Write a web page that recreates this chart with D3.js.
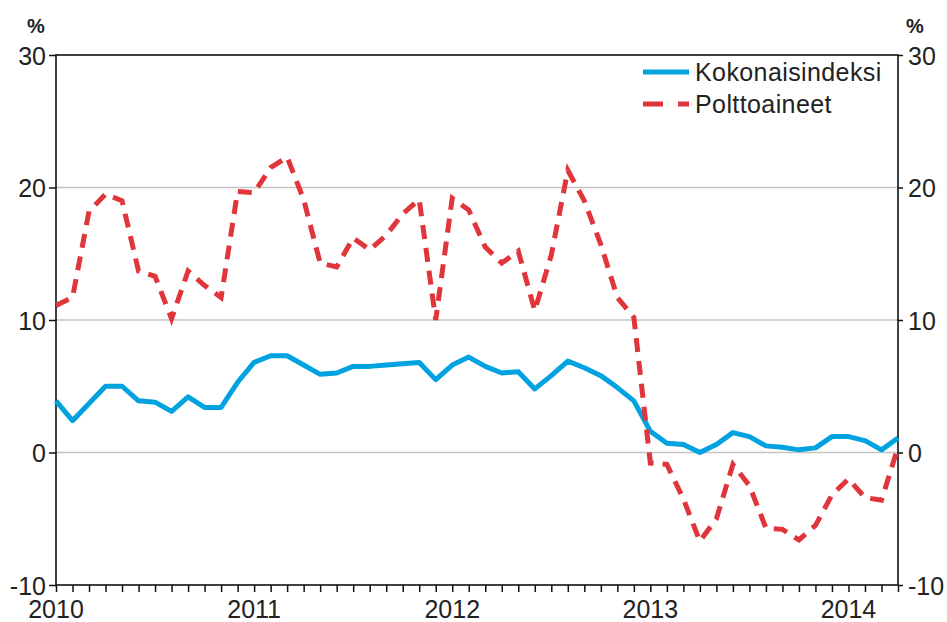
<!DOCTYPE html>
<meta charset="utf-8">
<head>
    <title>Kokonaisindeksi ja polttoaineet</title>
    <script src="https://cdn.jsdelivr.net/npm/d3@7"></script>
    <style>
    body { margin: 0; background: #fff; }
    text { font-family: "Liberation Sans", Arial, sans-serif; fill: #222; }
    </style>
</head>
<body>
<svg id="chart"></svg>
<script>
    // monthly values Jan 2010 .. Apr 2014
    var nMonths = 52;
    var yearLabels = ["2010", "2011", "2012", "2013", "2014"];
    var yTicks = [-10, 0, 10, 20, 30];

    var kokonaisindeksi = [3.9, 2.4, 3.7, 5.0, 5.0, 3.9, 3.8, 3.1, 4.2, 3.4, 3.4, 5.3,
                           6.8, 7.3, 7.3, 6.6, 5.9, 6.0, 6.5, 6.5, 6.6, 6.7, 6.8, 5.5,
                           6.6, 7.2, 6.5, 6.0, 6.1, 4.8, 5.8, 6.9, 6.4, 5.8, 4.9, 3.9,
                           1.6, 0.7, 0.6, 0.0, 0.6, 1.5, 1.2, 0.5, 0.4, 0.2, 0.35, 1.2,
                           1.2, 0.9, 0.2, 1.1];
    var polttoaineet = [11.1, 11.7, 18.2, 19.5, 19.0, 13.7, 13.3, 10.1, 13.7, 12.6, 11.7, 19.7,
                        19.6, 21.5, 22.3, 19.1, 14.3, 14.0, 16.2, 15.3, 16.4, 18.0, 19.1, 10.0,
                        19.2, 18.3, 15.5, 14.3, 15.2, 10.7, 14.9, 21.3, 19.0, 15.7, 11.7, 10.2,
                        -0.8, -0.9, -3.5, -6.7, -5.0, -0.9, -2.5, -5.7, -5.8, -6.6, -5.5, -3.2,
                        -2.0, -3.4, -3.6, 0.4];
    var seriesNames = ["Kokonaisindeksi", "Polttoaineet"];
    var colors = ["#00a3e0", "#e0353a"];

    var width = 947, height = 622;
    var margin = {top: 55, right: 49, bottom: 37, left: 56};

    var svg = d3.select("#chart").attr("width", width).attr("height", height);

    var x = d3.scaleLinear().domain([0, nMonths - 1]).range([margin.left, width - margin.right]);
    var y = d3.scaleLinear().domain([-10, 30]).range([height - margin.bottom, margin.top]);

    // gridlines
    svg.append("g").selectAll("line").data(yTicks.filter(function(d){ return d > -10 && d < 30; }))
        .enter().append("line")
        .attr("x1", x(0)).attr("x2", x(nMonths - 1))
        .attr("y1", function(d){ return y(d); }).attr("y2", function(d){ return y(d); })
        .attr("stroke", "#c4c4c4").attr("stroke-width", 1.3);

    // axes
    var fmt = function(d){ return String(d); };
    var axisLeft = d3.axisLeft(y).tickValues(yTicks).tickFormat(fmt).tickSize(7).tickPadding(3);
    var axisRight = d3.axisRight(y).tickValues(yTicks).tickFormat(fmt).tickSize(5).tickPadding(5);
    var axisBottom = d3.axisBottom(x).tickValues(d3.range(nMonths)).tickSize(7).tickFormat("");

    function styleAxis(g) {
        g.select(".domain").remove();
        g.selectAll("line").attr("stroke", "#111").attr("stroke-width", 1.5);
        g.selectAll("text").style("font-size", "25px").attr("fill", "#222");
    }

    svg.append("g").attr("transform", "translate(" + x(0) + ",0)").call(axisLeft).call(styleAxis)
        .selectAll("text").attr("dy", "0.36em");
    svg.append("g").attr("transform", "translate(" + x(nMonths - 1) + ",0)").call(axisRight).call(styleAxis)
        .selectAll("text").attr("dy", "0.36em");
    svg.append("g").attr("transform", "translate(0," + y(-10) + ")").call(axisBottom).call(styleAxis);

    // frame
    svg.append("rect")
        .attr("x", x(0)).attr("y", y(30))
        .attr("width", x(nMonths - 1) - x(0)).attr("height", y(-10) - y(30))
        .attr("fill", "none").attr("stroke", "#111").attr("stroke-width", 1.6);

    // year labels
    svg.append("g").selectAll("text").data(yearLabels).enter().append("text")
        .attr("x", function(d, i){ return x(i * 12); })
        .attr("y", 618)
        .attr("text-anchor", "middle")
        .style("font-size", "25px")
        .text(function(d){ return d; });

    // % units
    svg.append("text").attr("x", 36).attr("y", 33).attr("text-anchor", "middle")
        .style("font-size", "20px").style("font-weight", "bold").text("%");
    svg.append("text").attr("x", 915).attr("y", 33).attr("text-anchor", "middle")
        .style("font-size", "20px").style("font-weight", "bold").text("%");

    var line = d3.line().x(function(d, i){ return x(i); }).y(function(d){ return y(d); });

    svg.append("path").datum(kokonaisindeksi)
        .attr("d", line).attr("fill", "none")
        .attr("stroke", colors[0]).attr("stroke-width", 5).attr("stroke-linejoin", "round");

    svg.append("path").datum(polttoaineet)
        .attr("d", line).attr("fill", "none")
        .attr("stroke", colors[1]).attr("stroke-width", 5)
        .attr("stroke-dasharray", "14,9");

    // legend
    var legend = svg.append("g").attr("transform", "translate(643,0)");
    legend.selectAll("line").data(seriesNames).enter().append("line")
        .attr("x1", 0).attr("x2", 46)
        .attr("y1", function(d, i){ return 72 + i * 32; })
        .attr("y2", function(d, i){ return 72 + i * 32; })
        .attr("stroke", function(d, i){ return colors[i]; })
        .attr("stroke-width", 5)
        .attr("stroke-dasharray", function(d, i){ return i == 1 ? "20,15" : null; });
    legend.selectAll("text").data(seriesNames).enter().append("text")
        .attr("x", 52)
        .attr("y", function(d, i){ return 81 + i * 32; })
        .style("font-size", "25px")
        .style("letter-spacing", "0.4px")
        .text(function(d){ return d; });
</script>
</body>
